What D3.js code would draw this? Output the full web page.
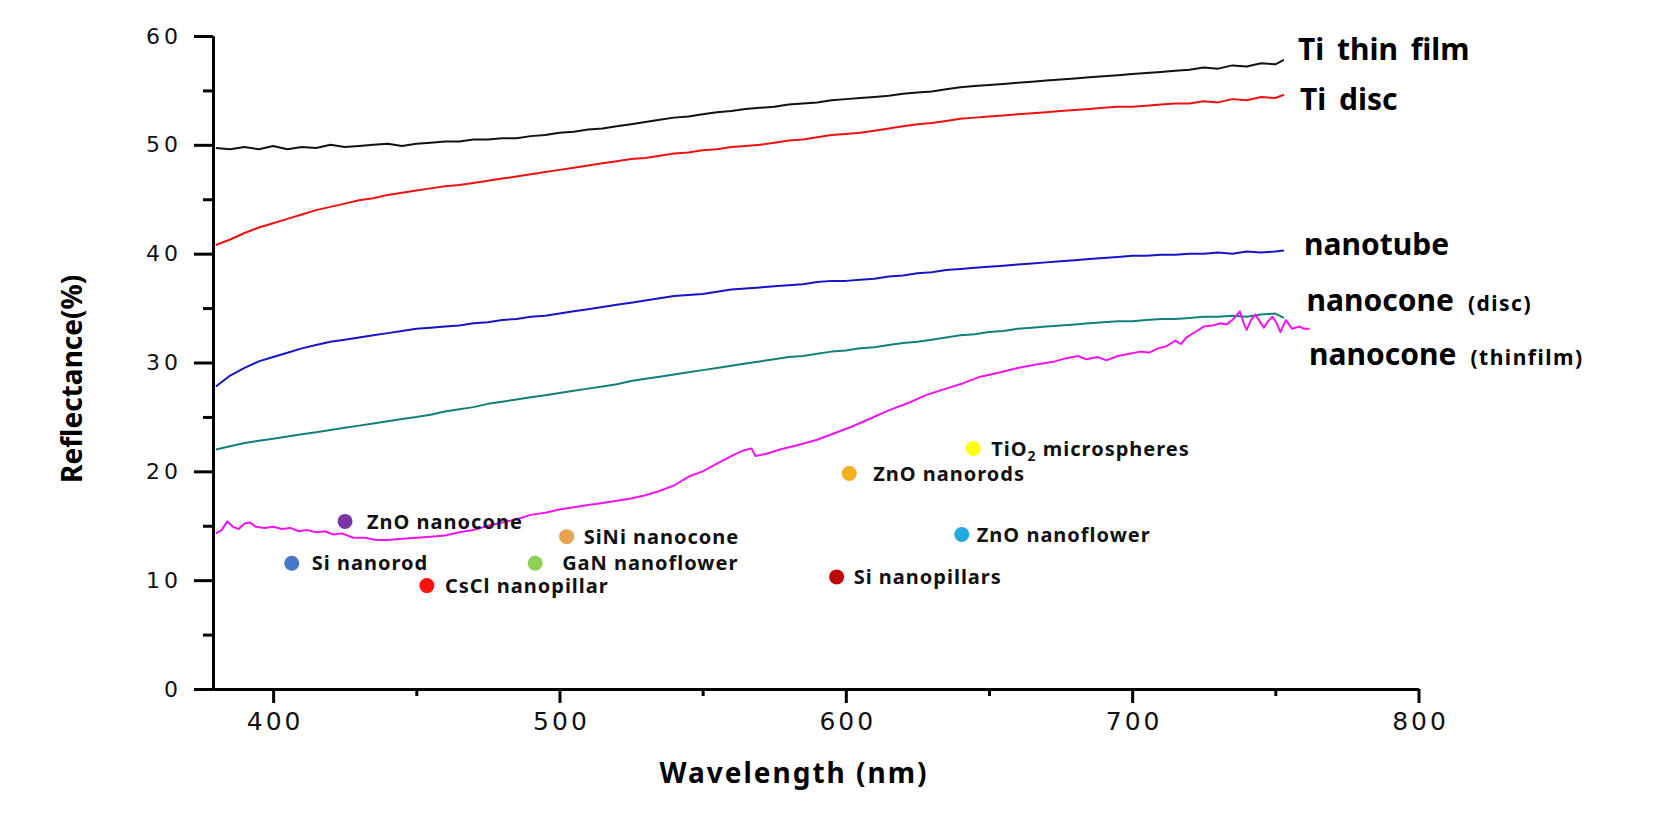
<!DOCTYPE html>
<html><head><meta charset="utf-8">
<script src="https://cdn.jsdelivr.net/npm/d3@7"></script>
<style>html,body{margin:0;padding:0;background:#fff;} svg{display:block;background:#fff}</style>
</head><body>
<svg id="chart" width="1659" height="817"></svg>
<script>
// ---------- DATA ----------
const wavelengths = [380,385,390,395,400,405,410,415,420,425,430,435,440,445,450,455,460,465,470,475,
  480,485,490,495,500,505,510,515,520,525,530,535,540,545,550,555,560,565,570,575,
  580,585,590,595,600,605,610,615,620,625,630,635,640,645,650,655,660,665,670,675,
  680,685,690,695,700,705,710,715,720,725,730,735,740,745,750,753];

const tiThinFilm = [49.7,49.6,49.8,49.6,49.9,49.6,49.8,49.7,50.0,49.8,
  49.9,50.0,50.1,49.9,50.1,50.2,50.3,50.3,50.5,50.5,
  50.6,50.6,50.8,50.9,51.1,51.2,51.4,51.5,51.7,51.9,
  52.1,52.3,52.5,52.6,52.8,53.0,53.1,53.3,53.4,53.5,
  53.7,53.8,53.9,54.1,54.2,54.3,54.4,54.5,54.7,54.8,
  54.9,55.1,55.3,55.4,55.5,55.6,55.7,55.8,55.9,56.0,
  56.1,56.2,56.3,56.4,56.5,56.6,56.7,56.8,56.9,57.1,
  57.0,57.3,57.2,57.5,57.4,57.8];

const tiDisc = [40.8,41.3,41.9,42.4,42.8,43.2,43.6,44.0,44.3,44.6,
  44.9,45.1,45.4,45.6,45.8,46.0,46.2,46.3,46.5,46.7,
  46.9,47.1,47.3,47.5,47.7,47.9,48.1,48.3,48.5,48.7,
  48.8,49.0,49.2,49.3,49.5,49.6,49.8,49.9,50.0,50.2,
  50.4,50.5,50.7,50.9,51.0,51.1,51.3,51.5,51.7,51.9,
  52.0,52.2,52.4,52.5,52.6,52.7,52.8,52.9,53.0,53.1,
  53.2,53.3,53.4,53.5,53.5,53.6,53.7,53.8,53.8,54.0,
  53.9,54.2,54.1,54.4,54.3,54.6];

const nanotube = [27.8,28.8,29.5,30.1,30.5,30.9,31.3,31.6,31.9,32.1,
  32.3,32.5,32.7,32.9,33.1,33.2,33.3,33.4,33.6,33.7,
  33.9,34.0,34.2,34.3,34.5,34.7,34.9,35.1,35.3,35.5,
  35.7,35.9,36.1,36.2,36.3,36.5,36.7,36.8,36.9,37.0,
  37.1,37.2,37.4,37.5,37.5,37.6,37.7,37.9,38.0,38.2,
  38.3,38.5,38.6,38.7,38.8,38.9,39.0,39.1,39.2,39.3,
  39.4,39.5,39.6,39.7,39.8,39.8,39.9,39.9,40.0,40.0,
  40.1,40.0,40.2,40.1,40.2,40.3];

const nanoconeDisc = [22.0,22.3,22.6,22.8,23.0,23.2,23.4,23.6,23.8,24.0,
  24.2,24.4,24.6,24.8,25.0,25.2,25.5,25.7,25.9,26.2,
  26.4,26.6,26.8,27.0,27.2,27.4,27.6,27.8,28.0,28.3,
  28.5,28.7,28.9,29.1,29.3,29.5,29.7,29.9,30.1,30.3,
  30.5,30.6,30.8,31.0,31.1,31.3,31.4,31.6,31.8,31.9,
  32.1,32.3,32.5,32.6,32.8,32.9,33.1,33.2,33.3,33.4,
  33.5,33.6,33.7,33.8,33.8,33.9,34.0,34.0,34.1,34.2,
  34.2,34.3,34.2,34.4,34.5,34.1];

const thinfilmWavelengths = [380,382,384,386,388,390,392,394,397,400,403,406,409,412,415,418,421,424,428,432,
  436,440,445,450,455,460,465,470,475,480,485,490,495,500,505,510,515,520,525,530,
  535,540,545,550,555,560,564,567,568.5,572,577,583,590,596,602,609,615,622,628,635,
  641,647,654,660,666,673,677,681,684,688,691,695,699,703,706,709,712,715,717,719,
  722,725,728,731,733,735,737.6,739,740,741.5,743,744.5,746,747.5,749,750.5,751.8,752.8,753.7,754.8,
  755.8,757,758.5,760,762];
const nanoconeThinfilm = [14.3,14.6,15.4,14.9,14.7,15.2,15.3,14.9,14.8,14.9,14.7,14.8,14.5,14.6,14.4,14.5,14.2,14.3,13.9,13.9,
  13.7,13.7,13.8,13.9,14.0,14.1,14.4,14.6,15.0,15.3,15.6,16.0,16.2,16.5,16.7,16.9,17.1,17.3,17.5,17.8,
  18.2,18.7,19.5,20.0,20.7,21.4,21.9,22.1,21.4,21.6,22.0,22.4,22.9,23.5,24.1,24.9,25.6,26.3,27.0,27.6,
  28.1,28.7,29.1,29.5,29.8,30.1,30.4,30.6,30.3,30.5,30.2,30.6,30.8,31.0,30.9,31.3,31.5,32.0,31.7,32.3,
  32.8,33.3,33.4,33.6,33.5,33.9,34.7,33.6,33.0,33.9,34.4,33.8,33.2,33.8,34.2,33.6,32.8,33.4,33.9,33.5,
  33.1,33.2,33.3,33.1,33.1];

const seriesNames = ["Ti thin film", "Ti disc", "nanotube", "nanocone", "nanocone"];
const seriesNotes = ["", "", "", "(disc)", "(thinfilm)"];
const seriesColors = ["#111111", "#ee1111", "#1414c8", "#12807a", "#f014ee"];

const refNames = ["ZnO nanocone","Si nanorod","CsCl nanopillar","SiNi nanocone","GaN nanoflower",
  "Si nanopillars","ZnO nanorods","TiO|2| microspheres","ZnO nanoflower"];
const refWavelength = [425.1, 406.5, 453.7, 502.5, 491.5, 596.8, 601.2, 644.5, 640.5];
const refReflectance = [15.4, 11.55, 9.5, 14.0, 11.55, 10.3, 19.8, 22.1, 14.2];
const refColors = ["#7a35a5","#4576c8","#ff1010","#e8a24e","#8fcf55","#c00a0a","#f2b01e","#ffff10","#24a8e0"];

const xTicks = [400, 500, 600, 700, 800];
const xMinorTicks = [450, 550, 650, 750];
const yTicks = [0, 10, 20, 30, 40, 50, 60];
const yMinorTicks = [5, 15, 25, 35, 45, 55];

// ---------- DRAW ----------
const svg = d3.select("#chart");
const x = d3.scaleLinear().domain([379, 800]).range([213, 1418.5]);
const y = d3.scaleLinear().domain([0, 60]).range([689, 36]);
const bold = "'Noto Sans', 'Open Sans', sans-serif";
const tickFont = "'DejaVu Sans', sans-serif";

// curves
const line = d3.line().x(d => x(d[0])).y(d => y(d[1]));
const curveSets = [
  [wavelengths, tiThinFilm], [wavelengths, tiDisc], [wavelengths, nanotube],
  [wavelengths, nanoconeDisc], [thinfilmWavelengths, nanoconeThinfilm]
];
curveSets.forEach((c, i) => {
  svg.append("path")
    .datum(c[0].map((w, j) => [w, c[1][j]]))
    .attr("d", line)
    .attr("fill", "none")
    .attr("stroke", seriesColors[i])
    .attr("stroke-width", 2)
    .attr("stroke-linejoin", "round");
});

// axes
const yAxis = d3.axisLeft(y).tickValues(yTicks).tickSize(19).tickSizeOuter(0).tickPadding(12);
const gy = svg.append("g").attr("transform", `translate(${x(379)},0)`).call(yAxis);
const yMinor = d3.axisLeft(y).tickValues(yMinorTicks).tickSize(10).tickSizeOuter(0).tickFormat("");
const gy2 = svg.append("g").attr("transform", `translate(${x(379)},0)`).call(yMinor);
const xAxis = d3.axisBottom(x).tickValues(xTicks).tickSize(14).tickSizeOuter(0).tickPadding(9);
const gx = svg.append("g").attr("transform", `translate(0,${y(0)})`).call(xAxis);
const xMinor = d3.axisBottom(x).tickValues(xMinorTicks).tickSize(7).tickSizeOuter(0).tickFormat("");
const gx2 = svg.append("g").attr("transform", `translate(0,${y(0)})`).call(xMinor);

[gy, gy2, gx, gx2].forEach(g => {
  g.selectAll("path.domain").attr("stroke", "#000").attr("stroke-width", 3);
  g.selectAll(".tick line").attr("stroke", "#000").attr("stroke-width", 3);
});
gy.selectAll(".tick text")
  .attr("font-family", tickFont).attr("font-size", 22).attr("letter-spacing", 4)
  .attr("fill", "#111");
gx.selectAll(".tick text")
  .attr("font-family", tickFont).attr("font-size", 25).attr("letter-spacing", 3)
  .attr("dx", 1.5).attr("fill", "#111");

// axis titles
svg.append("text")
  .attr("x", 794).attr("y", y(0) + 94)
  .attr("text-anchor", "middle")
  .attr("font-family", bold).attr("font-weight", 700).attr("font-size", 28)
  .attr("letter-spacing", 2)
  .text("Wavelength (nm)");
svg.append("text")
  .attr("transform", `translate(82,${y(28.5)}) rotate(-90)`)
  .attr("text-anchor", "middle")
  .attr("font-family", bold).attr("font-weight", 700).attr("font-size", 28)
  .text("Reflectance(%)");

// series labels (positioned in data units)
const seriesLabelAt = [[757.9, 57.8], [758.6, 53.2], [760, 39.9], [760.9, 34.7], [761.8, 29.8]];
seriesNames.forEach((name, i) => {
  const t = svg.append("text")
    .attr("x", x(seriesLabelAt[i][0])).attr("y", y(seriesLabelAt[i][1]))
    .attr("font-family", bold).attr("font-weight", 700).attr("font-size", 30)
    .attr("word-spacing", 5).attr("fill", "#000");
  t.append("tspan").text(name);
  if (seriesNotes[i]) {
    t.append("tspan").attr("dx", 14).attr("font-size", 21).attr("letter-spacing", 1.5)
      .text(seriesNotes[i]);
  }
});

// reference points
const labelDx = [22, 20, 18, 17, 27, 17, 24, 18, 15];
refNames.forEach((name, i) => {
  const cx = x(refWavelength[i]), cy = y(refReflectance[i]);
  svg.append("circle").attr("cx", cx).attr("cy", cy).attr("r", 7.5)
    .attr("fill", refColors[i]);
  const t = svg.append("text")
    .attr("x", cx + labelDx[i]).attr("y", cy).attr("dy", "0.36em")
    .attr("font-family", bold).attr("font-weight", 700).attr("font-size", 20)
    .attr("letter-spacing", 1)
    .attr("fill", "#111");
  const parts = name.split("|");
  if (parts.length === 3) {
    t.append("tspan").text(parts[0]);
    t.append("tspan").attr("font-size", 14).attr("dy", 5).text(parts[1]);
    t.append("tspan").attr("dy", -5).text(parts[2]);
  } else {
    t.append("tspan").text(name);
  }
});
</script>
</body></html>
